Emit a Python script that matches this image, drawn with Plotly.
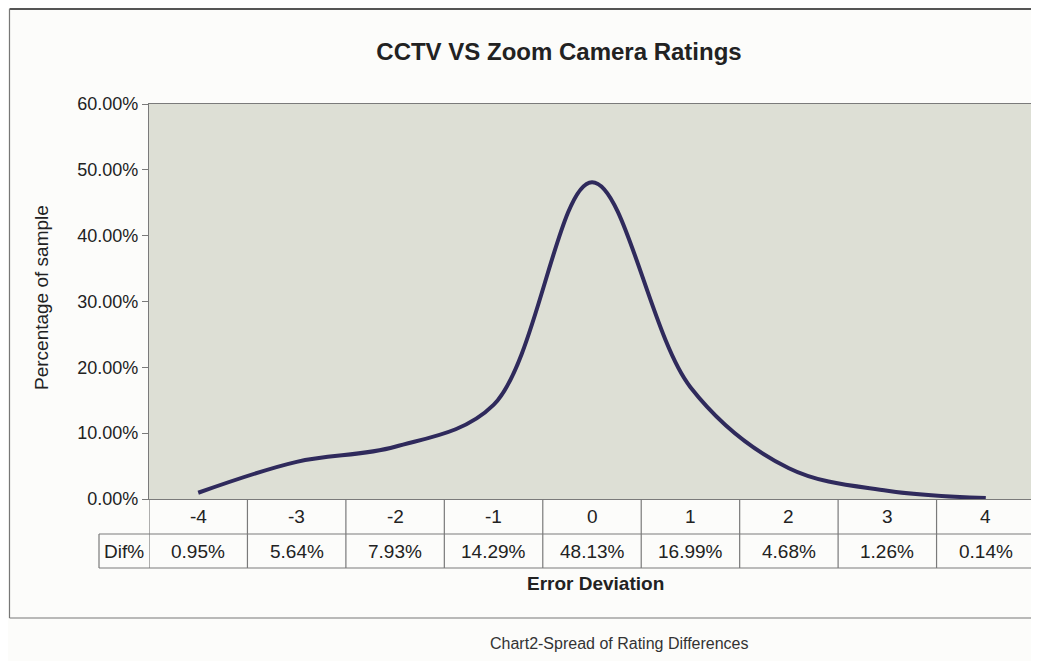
import plotly.graph_objects as go

# ---- data ----
categories = [-4, -3, -2, -1, 0, 1, 2, 3, 4]
dif_pct = [0.0095, 0.0564, 0.0793, 0.1429, 0.4813, 0.1699, 0.0468, 0.0126, 0.0014]
row_label = "Dif%"
y_ticks = [0.0, 0.1, 0.2, 0.3, 0.4, 0.5, 0.6]

title_text = "CCTV VS Zoom Camera Ratings"
x_title = "Error Deviation"
y_title = "Percentage of sample"
caption = "Chart2-Spread of Rating Differences"

FONT = "Liberation Sans, Arial, sans-serif"
GRID = "#7a7a7a"

# page body has an 8px margin; work in reference-pixel coords and shift
OFF = 8
W, H = 1039 - OFF, 661 - OFF
left, right, top, bottom = 149 - OFF, 1035 - OFF, 104 - OFF, 499 - OFF
plot_h = bottom - top
plot_w = right - left

def py(pix):  # reference pixel y -> paper y
    return (bottom - (pix - OFF)) / plot_h

def px(pix):  # reference pixel x -> paper x
    return ((pix - OFF) - left) / plot_w

fig = go.Figure()
fig.add_trace(go.Scatter(
    x=categories, y=dif_pct, mode="lines",
    line=dict(color="#2f2a5c", width=4, shape="spline", smoothing=1.0),
    hoverinfo="x+y", showlegend=False,
))

row1_bot = py(534)
row2_bot = py(568)
dif_left = px(99)

shapes = []
shapes.append(dict(type="line", xref="paper", yref="paper", x0=0, x1=1, y0=row1_bot, y1=row1_bot,
                   line=dict(color=GRID, width=1.2)))
shapes.append(dict(type="line", xref="paper", yref="paper", x0=dif_left, x1=0, y0=row1_bot, y1=row1_bot,
                   line=dict(color=GRID, width=1.2)))
shapes.append(dict(type="line", xref="paper", yref="paper", x0=dif_left, x1=1, y0=row2_bot, y1=row2_bot,
                   line=dict(color=GRID, width=1.2)))
shapes.append(dict(type="line", xref="paper", yref="paper", x0=dif_left, x1=dif_left, y0=row1_bot, y1=row2_bot,
                   line=dict(color=GRID, width=1.2)))
bounds = [c - 0.5 for c in categories] + [categories[-1] + 0.5]
for b in bounds:
    shapes.append(dict(type="line", xref="x", yref="paper", x0=b, x1=b, y0=0, y1=row2_bot,
                       line=dict(color=GRID, width=1.2)))
frame_l, frame_t, frame_b = px(9.5), py(9), py(618)
shapes.append(dict(type="line", xref="paper", yref="paper", x0=frame_l, x1=1.02, y0=frame_t, y1=frame_t,
                   line=dict(color="#555555", width=2)))
shapes.append(dict(type="line", xref="paper", yref="paper", x0=frame_l, x1=1.02, y0=frame_b, y1=frame_b,
                   line=dict(color="#777777", width=1.2)))
shapes.append(dict(type="line", xref="paper", yref="paper", x0=frame_l, x1=frame_l, y0=frame_t, y1=frame_b,
                   line=dict(color="#777777", width=1.2)))

TF = dict(family=FONT, size=19, color="#222")
annotations = []
for c, v in zip(categories, dif_pct):
    annotations.append(dict(x=c, y=row1_bot / 2, xref="x", yref="paper", text=str(c),
                            showarrow=False, font=TF, xanchor="center", yanchor="middle"))
    annotations.append(dict(x=c, y=(row1_bot + row2_bot) / 2, xref="x", yref="paper", text=f"{v*100:.2f}%",
                            showarrow=False, font=TF, xanchor="center", yanchor="middle"))
annotations.append(dict(x=dif_left / 2, y=(row1_bot + row2_bot) / 2, xref="paper", yref="paper",
                        text=row_label, showarrow=False, font=TF, xanchor="center", yanchor="middle"))
annotations.append(dict(x=px(595), y=py(583), xref="paper", yref="paper", text=f"<b>{x_title}</b>",
                        showarrow=False, font=dict(family=FONT, size=19, color="#222"),
                        xanchor="center", yanchor="middle"))
annotations.append(dict(x=px(41), y=py(298), xref="paper", yref="paper", text=y_title, textangle=-90,
                        showarrow=False, font=dict(family=FONT, size=19, color="#222"),
                        xanchor="center", yanchor="middle"))
annotations.append(dict(x=px(619), y=py(643), xref="paper", yref="paper", text=caption,
                        showarrow=False, font=dict(family=FONT, size=16, color="#333"),
                        xanchor="center", yanchor="middle"))

fig.update_layout(
    width=W, height=H,
    margin=dict(l=left, r=W - right, t=top, b=H - bottom, autoexpand=False),
    paper_bgcolor="#fcfcfa",
    plot_bgcolor="#dddfd5",
    title=dict(text=f"<b>{title_text}</b>", x=(559 - OFF) / W, xref="container", xanchor="center",
               y=1 - (52 - OFF) / H, yref="container", yanchor="middle",
               font=dict(family=FONT, size=24, color="#222")),
    xaxis=dict(range=[-4.5, 4.5], showticklabels=False, showgrid=False, zeroline=False,
               showline=True, linecolor=GRID, linewidth=1.2, mirror=True, ticks=""),
    yaxis=dict(range=[0, 0.6], tickvals=y_ticks, tickformat=".2%", showgrid=False, zeroline=False,
               showline=True, linecolor=GRID, linewidth=1.2, mirror=True,
               ticks="outside", ticklen=6, tickcolor=GRID,
               tickfont=dict(family=FONT, size=18, color="#222")),
    shapes=shapes,
    annotations=annotations,
)

fig.write_html("out.html")
